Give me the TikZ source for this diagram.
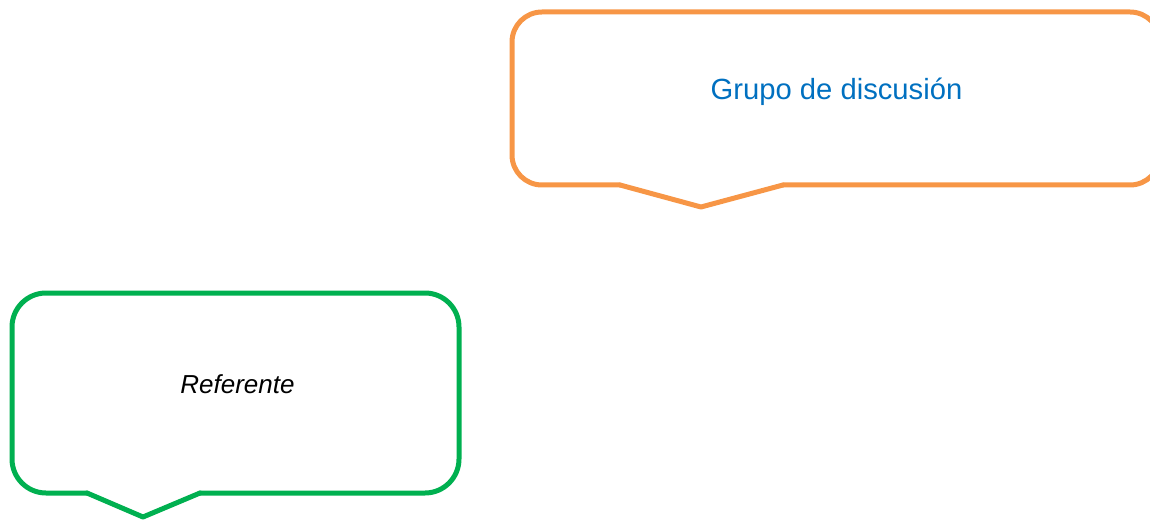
\documentclass[tikz,border=0pt]{standalone}
\usepackage{fontspec}
\setmainfont{Liberation Sans}
\definecolor{calloutorange}{RGB}{247,150,70}
\definecolor{calloutgreen}{RGB}{0,176,80}
\definecolor{textblue}{RGB}{0,112,192}
\tikzset{
  calloutline/.style={line width=5pt, line join=round, line cap=round},
  lbl/.style={inner sep=0pt, anchor=base}
}
\begin{document}
\begin{tikzpicture}[x=1pt,y=-1pt]
\useasboundingbox (0,0) rectangle (1150,521);
% orange callout
\coordinate (ol) at (620,185);
\coordinate (otip) at (701,207);
\coordinate (or) at (783,185);
\begin{scope}
\clip (0,0) rectangle (1150,521);
\draw[calloutline, draw=calloutorange, rounded corners=30pt]
  (or) -- (1160,185) -- (1160,12) -- (512,12) -- (512,185) -- (ol);
\end{scope}
\draw[calloutline, draw=calloutorange] (ol) -- (otip) -- (or);
\node[lbl, text=textblue, font=\fontsize{29.2}{35}\selectfont] (grupo) at (836.5,100) {Grupo de discusión};
% green callout
\coordinate (gl) at (87,493);
\coordinate (gtip) at (143,517);
\coordinate (gr) at (200,493);
\draw[calloutline, draw=calloutgreen, rounded corners=34pt]
  (gr) -- (459,493) -- (459,293) -- (12,293) -- (12,493) -- (gl);
\draw[calloutline, draw=calloutgreen] (gl) -- (gtip) -- (gr);
\node[lbl, font=\itshape\fontsize{26}{31}\selectfont] (ref) at (237.5,393) {Referente};
\end{tikzpicture}
\end{document}
